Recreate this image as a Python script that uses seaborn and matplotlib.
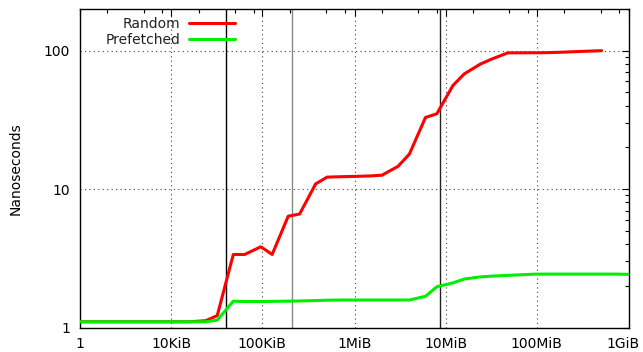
import numpy as np
import pandas as pd
import matplotlib
matplotlib.use("Agg")
import matplotlib.pyplot as plt
import matplotlib.ticker as mticker
import matplotlib.transforms as mtransforms
import seaborn as sns

# ---- data (sizes in KiB, latency in ns) ----
random_sizes = [1, 2, 4, 8, 16, 24, 32, 48, 64, 96, 128, 192, 256, 384, 512, 768,
                1024, 1536, 2048, 3072, 4096, 6144, 8192, 12288, 16384, 24576,
                32768, 49152, 65536, 98304, 131072, 196608, 262144, 393216, 524288]
random_ns = [1.1, 1.1, 1.1, 1.1, 1.1, 1.12, 1.22, 3.37, 3.37, 3.83, 3.37, 6.37, 6.6,
             10.9, 12.2, 12.3, 12.35, 12.45, 12.6, 14.6, 17.9, 32.9, 35.0, 56.0,
             68.0, 80.0, 87.0, 96.4, 96.5, 96.6, 96.7, 97.5, 98.3, 99.3, 100.0]

prefetch_sizes = [1, 2, 4, 8, 16, 24, 32, 48, 64, 96, 128, 192, 256, 384, 512, 768,
                  1024, 1536, 2048, 3072, 4096, 6144, 8192, 12288, 16384, 24576,
                  32768, 49152, 65536, 98304, 131072, 196608, 262144, 393216,
                  524288, 786432, 1048576]
prefetch_ns = [1.1, 1.1, 1.1, 1.1, 1.1, 1.1, 1.13, 1.55, 1.54, 1.54, 1.545, 1.55,
               1.555, 1.565, 1.575, 1.58, 1.58, 1.58, 1.58, 1.58, 1.58, 1.68, 1.97,
               2.1, 2.24, 2.32, 2.35, 2.38, 2.4, 2.43, 2.43, 2.43, 2.43, 2.43, 2.43,
               2.43, 2.42]

series_names = ["Random", "Prefetched"]
series_colors = ["#ff0000", "#00ee00"]

cache_lines_kib = [40, 210, 8850]
cache_line_colors = ["#000000", "#888888", "#222222"]

x_ticks = [1, 10, 100, 1024, 10240, 102400, 1048576]
x_tick_labels = ["1", "10KiB", "100KiB", "1MiB", "10MiB", "100MiB", "1GiB"]
x_minor_mult = [2, 5, 8]
y_ticks = [1, 10, 100]
y_tick_labels = ["1", "10", "100"]

df = pd.concat([
    pd.DataFrame({"size": random_sizes, "ns": random_ns, "series": series_names[0]}),
    pd.DataFrame({"size": prefetch_sizes, "ns": prefetch_ns, "series": series_names[1]}),
])

sns.set_theme(style="white")
plt.rcParams["font.family"] = ["DejaVu Sans"]

fig = plt.figure(figsize=(6.43, 3.52), dpi=100)
ax = fig.add_axes([80 / 643, 1 - 327.5 / 352, 549 / 643, (327.5 - 9) / 352])

for xv, c in zip(cache_lines_kib, cache_line_colors):
    ax.axvline(xv, color=c, lw=1.0, zorder=1)

sns.lineplot(data=df, x="size", y="ns", hue="series", hue_order=series_names,
             palette=series_colors, linewidth=2.2, ax=ax, zorder=3,
             estimator=None, sort=False)

ax.set_xscale("log")
ax.set_yscale("log")
ax.set_xlim(1, 1048576)
ax.set_ylim(1, 200)

ax.set_xticks(x_ticks)
ax.set_xticklabels(x_tick_labels)
minor_x = [m * t for t in x_ticks[:-1] for m in x_minor_mult]
ax.xaxis.set_minor_locator(mticker.FixedLocator(minor_x))
ax.xaxis.set_minor_formatter(mticker.NullFormatter())
ax.set_yticks(y_ticks)
ax.set_yticklabels(y_tick_labels)
ax.yaxis.set_minor_locator(mticker.LogLocator(base=10, subs=np.arange(2, 10)))
ax.yaxis.set_minor_formatter(mticker.NullFormatter())

ax.tick_params(which="both", direction="in", top=True, right=True,
               colors="black", labelsize=10, width=0.8)
ax.tick_params(which="major", length=5, pad=7)
ax.tick_params(which="minor", length=3)

# keep the last x label inside the canvas (as the reference does)
last = ax.get_xticklabels()[-1]
last.set_transform(last.get_transform() +
                   mtransforms.ScaledTranslation(-6 / 100, 0, fig.dpi_scale_trans))

ax.grid(which="major", axis="both", linestyle=(0, (1, 3)), color="#444444", lw=0.8)
ax.set_axisbelow(True)

for s in ax.spines.values():
    s.set_color("black")
    s.set_linewidth(1.0)

ax.set_xlabel("")
ax.set_ylabel("Nanoseconds", fontsize=10, color="black", labelpad=15.5)

leg = ax.legend(loc="upper right", bbox_to_anchor=(0.295, 0.998), frameon=False,
                markerfirst=False, handlelength=3.3, handletextpad=0.65,
                labelspacing=0.2, borderpad=0, fontsize=10)
for t in leg.get_texts():
    t.set_color("#222222")

fig.savefig("out.png", dpi=100)
